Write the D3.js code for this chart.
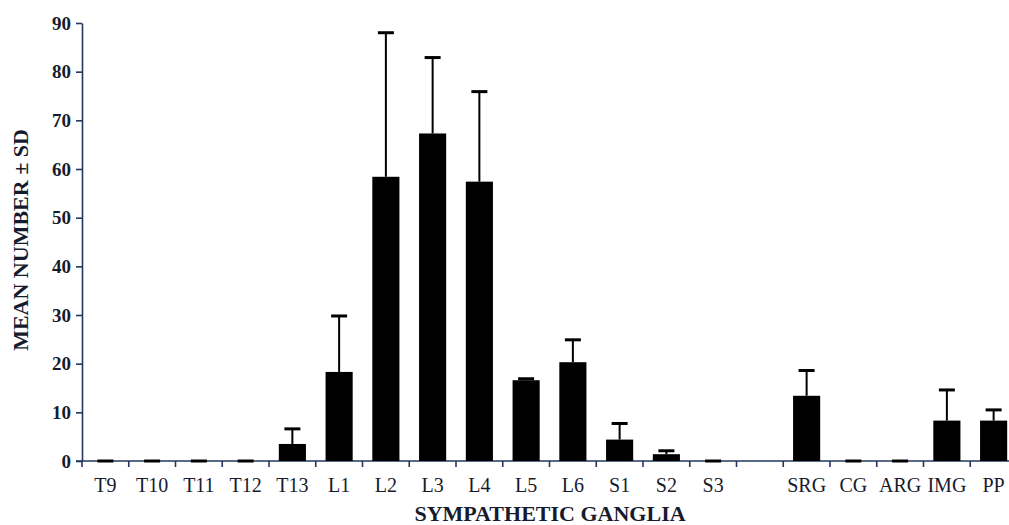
<!DOCTYPE html>
<html>
<head>
<meta charset="utf-8">
<script src="https://cdn.jsdelivr.net/npm/d3@7"></script>
<style>
  body { margin: 0; background: #fff; }
  svg { display: block; }
  text { font-family: "Liberation Serif", "Times New Roman", serif; fill: #161b2e; }
</style>
</head>
<body>
<svg id="chart"></svg>
<script>
// Datos
const categories = ["T9", "T10", "T11", "T12", "T13", "L1", "L2", "L3", "L4", "L5", "L6", "S1", "S2", "S3", "", "SRG", "CG", "ARG", "IMG", "PP"];
const means = [0, 0, 0, 0, 3.5, 18.3, 58.4, 67.3, 57.4, 16.6, 20.3, 4.4, 1.4, 0, null, 13.4, 0, 0, 8.3, 8.3];
const sds = [0, 0, 0, 0, 3.1, 11.5, 29.6, 15.6, 18.5, 0.3, 4.6, 3.3, 0.7, 0, null, 5.2, 0, 0, 6.3, 2.2];
const yTicks = [0, 10, 20, 30, 40, 50, 60, 70, 80, 90];

const width = 1009;
const height = 525;
const axisColor = "#22375f";

const svg = d3.select("#chart")
    .attr("width", width)
    .attr("height", height);

const plotLeft = 82, plotBottom = 461, plotTop = 23;
const step = 46.75;

const x = d3.scaleBand()
    .domain(categories)
    .range([plotLeft, plotLeft + step * categories.length])
    .paddingInner(0.42)
    .paddingOuter(0.21);

const y = d3.scaleLinear()
    .domain([0, 90])
    .range([plotBottom, plotTop]);

const data = categories.map((c, i) => ({ cat: c, mean: means[i], sd: sds[i] }))
    .filter(d => d.mean !== null);

// Eje Y
const yAxis = svg.append("g")
    .attr("transform", `translate(${plotLeft},0)`)
    .call(d3.axisLeft(y).tickValues(yTicks).tickSize(6).tickPadding(5).tickSizeOuter(0));
yAxis.select(".domain").attr("stroke", axisColor).attr("stroke-width", 1.6);
yAxis.selectAll(".tick line").attr("stroke", axisColor).attr("stroke-width", 1.6);
yAxis.selectAll(".tick text")
    .attr("font-size", 19)
    .attr("font-weight", "bold")
    .attr("font-family", "Liberation Serif, serif")
    .attr("fill", "#161b2e");

// Eje X
const xAxis = svg.append("g")
    .attr("transform", `translate(0,${plotBottom})`)
    .call(d3.axisBottom(x).tickSize(0).tickPadding(17).tickSizeOuter(0));
xAxis.select(".domain").remove();
xAxis.selectAll(".tick text")
    .attr("font-size", 20)
    .attr("font-family", "Liberation Serif, serif")
    .attr("fill", "#161b2e");

xAxis.append("line")
    .attr("x1", plotLeft - 6)
    .attr("x2", width)
    .attr("y1", 0)
    .attr("y2", 0)
    .attr("stroke", axisColor)
    .attr("stroke-width", 1.6);

// Marcas entre categorías
const boundaries = d3.range(categories.length + 1).map(i => x.range()[0] + i * x.step());
xAxis.selectAll("line.sep")
    .data(boundaries)
    .enter().append("line")
    .attr("class", "sep")
    .attr("x1", d => d)
    .attr("x2", d => d)
    .attr("y1", 0)
    .attr("y2", 6)
    .attr("stroke", axisColor)
    .attr("stroke-width", 1.6);

// Barras
svg.append("g").selectAll("rect")
    .data(data)
    .enter().append("rect")
    .attr("x", d => x(d.cat))
    .attr("y", d => y(d.mean))
    .attr("width", x.bandwidth())
    .attr("height", d => plotBottom - y(d.mean))
    .attr("fill", "#000");

// Barras de error
const capW = 16;
const err = svg.append("g");
err.selectAll("line.whisker")
    .data(data.filter(d => d.sd > 0))
    .enter().append("line")
    .attr("class", "whisker")
    .attr("x1", d => x(d.cat) + x.bandwidth() / 2)
    .attr("x2", d => x(d.cat) + x.bandwidth() / 2)
    .attr("y1", d => y(d.mean))
    .attr("y2", d => y(d.mean + d.sd))
    .attr("stroke", "#000")
    .attr("stroke-width", 2);

err.selectAll("line.cap")
    .data(data)
    .enter().append("line")
    .attr("class", "cap")
    .attr("x1", d => x(d.cat) + x.bandwidth() / 2 - capW / 2)
    .attr("x2", d => x(d.cat) + x.bandwidth() / 2 + capW / 2)
    .attr("y1", d => y(d.mean + d.sd))
    .attr("y2", d => y(d.mean + d.sd))
    .attr("stroke", "#000")
    .attr("stroke-width", 3);

// Títulos de ejes
svg.append("text")
    .attr("transform", `translate(28,240) rotate(-90)`)
    .attr("text-anchor", "middle")
    .attr("font-size", 22)
    .attr("font-weight", "bold")
    .text("MEAN NUMBER ± SD");

svg.append("text")
    .attr("x", 550)
    .attr("y", 521)
    .attr("text-anchor", "middle")
    .attr("font-size", 22)
    .attr("font-weight", "bold")
    .text("SYMPATHETIC GANGLIA");
</script>
</body>
</html>
